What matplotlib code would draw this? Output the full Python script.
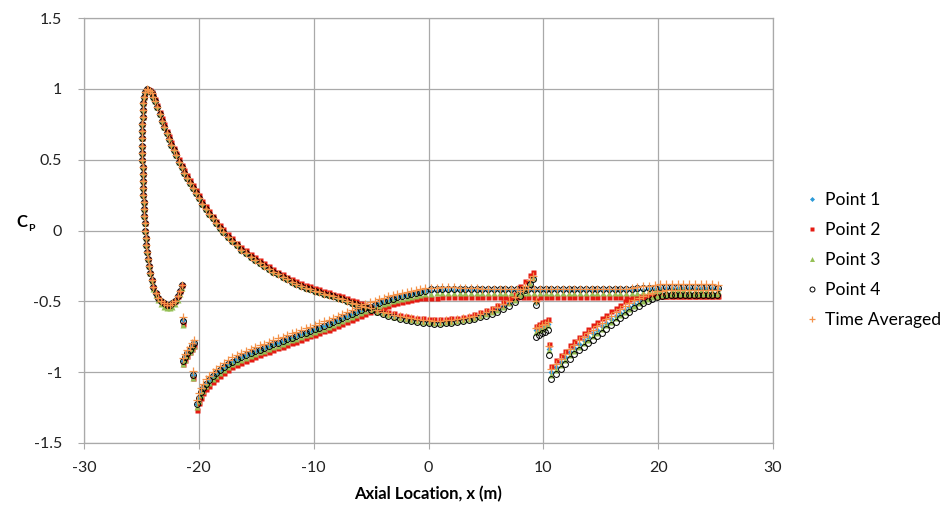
import matplotlib
matplotlib.use("Agg")
import matplotlib.pyplot as plt

plt.rcParams["font.family"] = ["Lato", "DejaVu Sans"]

# ---- values ----
# leading edge: peak and lower branch down into the trough
nose_x = [-24.55, -24.68, -24.77, -24.83, -24.87, -24.9, -24.91, -24.92, -24.92, -24.92,
          -24.92, -24.91, -24.9, -24.89, -24.87, -24.85, -24.83, -24.8, -24.77, -24.74,
          -24.71, -24.68, -24.64, -24.59, -24.53, -24.46, -24.37, -24.26, -24.12, -23.96,
          -23.77, -23.55, -23.3, -23.05, -22.8, -22.55, -22.3, -22.05, -21.85, -21.67, -21.5]
nose_y = [1.0, 0.975, 0.94, 0.9, 0.85, 0.8, 0.75, 0.7, 0.65, 0.6,
          0.55, 0.5, 0.45, 0.4, 0.35, 0.3, 0.25, 0.2, 0.15, 0.1,
          0.05, 0.0, -0.05, -0.1, -0.15, -0.2, -0.25, -0.3, -0.35, -0.4,
          -0.44, -0.475, -0.5, -0.515, -0.525, -0.525, -0.515, -0.495, -0.465, -0.43, -0.385]
nose_y_p3 = [1.0, 0.975, 0.94, 0.9, 0.85, 0.8, 0.75, 0.7, 0.65, 0.6,
             0.55, 0.5, 0.45, 0.4, 0.35, 0.3, 0.25, 0.2, 0.15, 0.1,
             0.05, 0.0, -0.05, -0.1, -0.15, -0.2, -0.25, -0.3, -0.355, -0.41,
             -0.455, -0.49, -0.52, -0.54, -0.55, -0.55, -0.54, -0.52, -0.49, -0.45, -0.405]

# upper branch from the peak back to the crossing
up_x = [-24.4, -24.25, -24.1, -23.95, -23.8, -23.6, -23.4, -23.2, -23.0, -22.8,
        -22.6, -22.4, -22.2, -22.0, -21.75, -21.5, -21.25, -21.0, -20.75, -20.5,
        -20.25, -20.0, -19.7, -19.4, -19.1, -18.8, -18.5, -18.2, -17.9, -17.5,
        -17.1, -16.7, -16.3, -15.9, -15.5, -15.1, -14.7, -14.3, -13.9, -13.5,
        -13.1, -12.7, -12.3, -11.9, -11.5, -11.1, -10.7, -10.3, -9.9, -9.5,
        -9.1, -8.7, -8.3, -7.9, -7.5, -7.1, -6.7, -6.3, -5.9, -5.5]
up_y = [0.995, 0.985, 0.97, 0.945, 0.915, 0.87, 0.82, 0.775, 0.73, 0.685,
        0.645, 0.605, 0.565, 0.53, 0.485, 0.445, 0.405, 0.37, 0.335, 0.3,
        0.265, 0.23, 0.19, 0.155, 0.12, 0.085, 0.05, 0.02, -0.01, -0.045,
        -0.075, -0.105, -0.135, -0.16, -0.185, -0.21, -0.23, -0.25, -0.27, -0.29,
        -0.31, -0.325, -0.345, -0.36, -0.375, -0.39, -0.405, -0.415, -0.425, -0.435,
        -0.445, -0.455, -0.465, -0.475, -0.485, -0.495, -0.51, -0.52, -0.53, -0.54]
up_y_p2 = [1.0, 0.995, 0.98, 0.96, 0.93, 0.885, 0.84, 0.795, 0.75, 0.705,
           0.665, 0.625, 0.585, 0.55, 0.505, 0.465, 0.425, 0.39, 0.355, 0.32,
           0.285, 0.25, 0.21, 0.175, 0.14, 0.105, 0.07, 0.04, 0.01, -0.025,
           -0.055, -0.085, -0.115, -0.14, -0.165, -0.19, -0.21, -0.23, -0.25, -0.27,
           -0.29, -0.305, -0.325, -0.34, -0.355, -0.37, -0.385, -0.395, -0.405, -0.415,
           -0.425, -0.435, -0.445, -0.455, -0.465, -0.475, -0.49, -0.5, -0.51, -0.525]

# upper branch after the crossing, up to the spike near x = 9
mid_x = [-5.0, -4.5, -4.0, -3.5, -3.0, -2.5, -2.0, -1.5, -1.0, -0.5,
         0.0, 0.5, 1.0, 1.5, 2.0, 2.5, 3.0, 3.5, 4.0, 4.5,
         5.0, 5.5, 6.0, 6.5, 7.0, 7.5, 8.0, 8.4, 8.8, 9.1]
mid_p1 = [-0.555, -0.568, -0.58, -0.592, -0.603, -0.613, -0.622, -0.629, -0.635, -0.64,
          -0.643, -0.645, -0.645, -0.643, -0.64, -0.635, -0.628, -0.62, -0.61, -0.598,
          -0.585, -0.57, -0.553, -0.533, -0.51, -0.485, -0.45, -0.41, -0.365, -0.33]
mid_p2 = [-0.54, -0.552, -0.563, -0.574, -0.584, -0.594, -0.602, -0.609, -0.615, -0.62,
          -0.623, -0.625, -0.625, -0.623, -0.62, -0.615, -0.608, -0.6, -0.59, -0.577,
          -0.563, -0.547, -0.528, -0.506, -0.482, -0.448, -0.395, -0.355, -0.315, -0.29]
mid_p3 = [-0.56, -0.573, -0.585, -0.597, -0.608, -0.618, -0.627, -0.634, -0.64, -0.645,
          -0.648, -0.65, -0.65, -0.648, -0.645, -0.64, -0.633, -0.625, -0.615, -0.603,
          -0.59, -0.575, -0.558, -0.538, -0.515, -0.49, -0.455, -0.415, -0.37, -0.335]
mid_p4 = [-0.56, -0.575, -0.588, -0.6, -0.612, -0.622, -0.632, -0.64, -0.646, -0.651,
          -0.655, -0.657, -0.657, -0.655, -0.652, -0.647, -0.641, -0.634, -0.625, -0.614,
          -0.602, -0.588, -0.573, -0.556, -0.535, -0.505, -0.465, -0.42, -0.375, -0.345]
mid_p5 = [-0.55, -0.562, -0.574, -0.585, -0.596, -0.606, -0.614, -0.621, -0.627, -0.632,
          -0.635, -0.637, -0.637, -0.635, -0.632, -0.627, -0.62, -0.612, -0.602, -0.59,
          -0.576, -0.56, -0.542, -0.522, -0.498, -0.47, -0.43, -0.39, -0.35, -0.32]

# single stray points
bit_x = [-21.4, -20.5, 9.35, 10.45]
bit_p1 = [-0.63, -1.02, -0.51, -0.835]
bit_p2 = [-0.66, -1.04, -0.49, -0.8]
bit_p3 = [-0.665, -1.04, -0.5, -0.84]
bit_p4 = [-0.64, -1.02, -0.525, -0.88]
bit_p5 = [-0.61, -0.995, -0.5, -0.815]

# short piece near x = -21
seg_x = [-21.4, -21.2, -21.0, -20.8, -20.6, -20.45]
seg_p1 = [-0.92, -0.895, -0.865, -0.84, -0.815, -0.795]
seg_p2 = [-0.94, -0.915, -0.885, -0.86, -0.835, -0.815]
seg_p5 = [-0.9, -0.875, -0.845, -0.82, -0.795, -0.775]

# short piece near x = 10
clu_x = [9.4, 9.65, 9.9, 10.15, 10.4]
clu_p1 = [-0.705, -0.695, -0.683, -0.672, -0.66]
clu_p2 = [-0.672, -0.66, -0.648, -0.638, -0.627]
clu_p3 = [-0.715, -0.705, -0.693, -0.682, -0.67]
clu_p4 = [-0.75, -0.738, -0.726, -0.713, -0.7]
clu_p5 = [-0.69, -0.68, -0.668, -0.657, -0.645]

# lower branch rising from x = -20
low_x = [-20.2, -20.0, -19.8, -19.6, -19.35, -19.1, -18.8, -18.5, -18.2, -17.85,
         -17.5, -17.1, -16.7, -16.3, -15.9, -15.5, -15.1, -14.7, -14.3, -13.9,
         -13.5, -13.1, -12.7, -12.3, -11.9, -11.5, -11.1, -10.7, -10.3, -9.9,
         -9.5, -9.1, -8.7, -8.3, -7.9, -7.5, -7.1, -6.7, -6.3, -5.9,
         -5.5, -5.1, -4.7, -4.3, -3.9, -3.5, -3.1, -2.7, -2.3, -1.9,
         -1.5, -1.1, -0.7, -0.3]
low_p1 = [-1.225, -1.18, -1.14, -1.11, -1.08, -1.055, -1.03, -1.005, -0.985, -0.965,
          -0.945, -0.925, -0.91, -0.895, -0.88, -0.865, -0.852, -0.84, -0.828, -0.816,
          -0.804, -0.792, -0.78, -0.768, -0.756, -0.744, -0.732, -0.72, -0.708, -0.697,
          -0.685, -0.672, -0.66, -0.647, -0.634, -0.62, -0.606, -0.592, -0.578, -0.564,
          -0.55, -0.537, -0.524, -0.512, -0.5, -0.49, -0.48, -0.47, -0.462, -0.455,
          -0.448, -0.441, -0.435, -0.43]
low_p2 = [-1.265, -1.22, -1.18, -1.15, -1.12, -1.095, -1.07, -1.045, -1.025, -1.005,
          -0.985, -0.965, -0.95, -0.935, -0.92, -0.905, -0.892, -0.88, -0.868, -0.856,
          -0.844, -0.832, -0.82, -0.808, -0.796, -0.784, -0.772, -0.76, -0.748, -0.737,
          -0.725, -0.712, -0.7, -0.687, -0.674, -0.66, -0.646, -0.632, -0.618, -0.604,
          -0.59, -0.577, -0.564, -0.552, -0.54, -0.53, -0.52, -0.51, -0.502, -0.495,
          -0.489, -0.484, -0.479, -0.476]
low_p3 = [-1.245, -1.2, -1.16, -1.13, -1.1, -1.075, -1.05, -1.025, -1.005, -0.985,
          -0.965, -0.945, -0.93, -0.915, -0.9, -0.885, -0.872, -0.86, -0.848, -0.836,
          -0.824, -0.812, -0.8, -0.788, -0.776, -0.764, -0.752, -0.74, -0.728, -0.717,
          -0.705, -0.692, -0.68, -0.667, -0.654, -0.64, -0.626, -0.612, -0.598, -0.584,
          -0.57, -0.557, -0.544, -0.532, -0.52, -0.51, -0.5, -0.49, -0.482, -0.475,
          -0.468, -0.461, -0.455, -0.45]
low_p5 = [-1.195, -1.15, -1.11, -1.08, -1.05, -1.025, -1.0, -0.975, -0.955, -0.935,
          -0.915, -0.895, -0.88, -0.865, -0.85, -0.835, -0.822, -0.81, -0.798, -0.786,
          -0.774, -0.762, -0.75, -0.738, -0.726, -0.714, -0.702, -0.69, -0.678, -0.667,
          -0.655, -0.642, -0.63, -0.617, -0.604, -0.59, -0.576, -0.562, -0.548, -0.534,
          -0.52, -0.508, -0.496, -0.485, -0.474, -0.464, -0.455, -0.446, -0.438, -0.431,
          -0.424, -0.418, -0.413, -0.408]

# lower branch, flat part out to the trailing end
flat_x = [0.2, 0.7, 1.2, 1.7, 2.2, 2.7, 3.2, 3.7, 4.2, 4.7,
          5.2, 5.7, 6.2, 6.7, 7.2, 7.7, 8.2, 8.7, 9.2, 9.7,
          10.2, 10.7, 11.2, 11.7, 12.2, 12.7, 13.2, 13.7, 14.2, 14.7,
          15.2, 15.7, 16.2, 16.7, 17.2, 17.7, 18.2, 18.7, 19.2, 19.7,
          20.2, 20.7, 21.2, 21.7, 22.2, 22.7, 23.2, 23.7, 24.2, 24.7, 25.2]
flat_p1 = [-0.426, -0.424, -0.422, -0.421, -0.42, -0.42, -0.42, -0.42, -0.42, -0.42,
           -0.42, -0.42, -0.42, -0.42, -0.42, -0.42, -0.42, -0.42, -0.42, -0.42,
           -0.42, -0.42, -0.42, -0.42, -0.42, -0.42, -0.42, -0.42, -0.42, -0.42,
           -0.42, -0.42, -0.42, -0.42, -0.42, -0.42, -0.42, -0.418, -0.414, -0.41,
           -0.407, -0.405, -0.404, -0.403, -0.403, -0.403, -0.404, -0.405, -0.406, -0.408, -0.41]
flat_p2 = [-0.476, -0.474, -0.472, -0.471, -0.47, -0.47, -0.47, -0.47, -0.47, -0.47,
           -0.47, -0.47, -0.47, -0.47, -0.47, -0.47, -0.47, -0.47, -0.47, -0.47,
           -0.47, -0.47, -0.47, -0.47, -0.47, -0.47, -0.47, -0.47, -0.47, -0.47,
           -0.47, -0.47, -0.47, -0.47, -0.47, -0.47, -0.468, -0.466, -0.464, -0.462,
           -0.46, -0.46, -0.46, -0.46, -0.46, -0.46, -0.46, -0.46, -0.46, -0.46, -0.46]
flat_p3 = [-0.446, -0.443, -0.441, -0.44, -0.44, -0.44, -0.44, -0.44, -0.44, -0.44,
           -0.44, -0.44, -0.44, -0.44, -0.44, -0.44, -0.44, -0.44, -0.44, -0.44,
           -0.44, -0.44, -0.44, -0.44, -0.44, -0.44, -0.44, -0.44, -0.44, -0.44,
           -0.44, -0.44, -0.44, -0.44, -0.44, -0.44, -0.438, -0.434, -0.43, -0.427,
           -0.425, -0.424, -0.423, -0.423, -0.423, -0.423, -0.424, -0.425, -0.426, -0.428, -0.43]
flat_p4 = [-0.414, -0.412, -0.41, -0.41, -0.41, -0.41, -0.41, -0.41, -0.41, -0.41,
           -0.41, -0.41, -0.41, -0.41, -0.41, -0.41, -0.41, -0.41, -0.41, -0.41,
           -0.41, -0.41, -0.41, -0.41, -0.41, -0.41, -0.41, -0.41, -0.41, -0.41,
           -0.41, -0.41, -0.41, -0.41, -0.41, -0.41, -0.409, -0.407, -0.405, -0.403,
           -0.401, -0.4, -0.399, -0.398, -0.398, -0.398, -0.399, -0.4, -0.401, -0.402, -0.404]
flat_p5 = [-0.405, -0.403, -0.401, -0.4, -0.402, -0.405, -0.407, -0.408, -0.409, -0.41,
           -0.41, -0.41, -0.41, -0.41, -0.41, -0.41, -0.41, -0.41, -0.41, -0.41,
           -0.41, -0.41, -0.41, -0.41, -0.41, -0.41, -0.41, -0.41, -0.41, -0.41,
           -0.41, -0.41, -0.41, -0.41, -0.41, -0.408, -0.4, -0.395, -0.39, -0.385,
           -0.38, -0.378, -0.376, -0.375, -0.375, -0.375, -0.376, -0.377, -0.379, -0.381, -0.384]

# aft lower branch rising from x = 10.7
aft_x = [10.7, 11.1, 11.5, 11.9, 12.3, 12.7, 13.1, 13.5, 13.9, 14.3,
         14.7, 15.1, 15.5, 15.9, 16.3, 16.7, 17.1, 17.5, 17.9, 18.3,
         18.7, 19.1, 19.5, 19.9, 20.3, 20.7, 21.1, 21.5, 21.9, 22.3,
         22.7, 23.1, 23.5, 23.9, 24.3, 24.7, 25.1]
aft_p1 = [-1.0, -0.965, -0.93, -0.895, -0.86, -0.83, -0.8, -0.775, -0.75, -0.725,
          -0.7, -0.675, -0.65, -0.625, -0.6, -0.58, -0.56, -0.54, -0.52, -0.5,
          -0.485, -0.47, -0.46, -0.455, -0.45, -0.447, -0.445, -0.445, -0.445, -0.445,
          -0.445, -0.445, -0.445, -0.445, -0.445, -0.445, -0.445]
aft_p2 = [-0.955, -0.915, -0.88, -0.85, -0.81, -0.78, -0.75, -0.72, -0.695, -0.67,
          -0.645, -0.62, -0.595, -0.57, -0.55, -0.525, -0.5, -0.48, -0.468, -0.462,
          -0.46, -0.46, -0.46, -0.46, -0.46, -0.46, -0.46, -0.46, -0.46, -0.46,
          -0.46, -0.46, -0.46, -0.46, -0.46, -0.46, -0.46]
aft_p3 = [-1.02, -0.985, -0.95, -0.915, -0.88, -0.85, -0.82, -0.795, -0.77, -0.745,
          -0.72, -0.695, -0.67, -0.645, -0.62, -0.595, -0.575, -0.555, -0.53, -0.51,
          -0.495, -0.48, -0.47, -0.46, -0.455, -0.452, -0.45, -0.45, -0.45, -0.45,
          -0.45, -0.45, -0.45, -0.45, -0.45, -0.45, -0.45]
aft_p4 = [-1.045, -1.01, -0.975, -0.94, -0.905, -0.875, -0.845, -0.82, -0.795, -0.77,
          -0.745, -0.72, -0.695, -0.67, -0.645, -0.62, -0.595, -0.575, -0.55, -0.53,
          -0.51, -0.495, -0.48, -0.47, -0.462, -0.458, -0.456, -0.455, -0.455, -0.455,
          -0.455, -0.455, -0.455, -0.455, -0.455, -0.455, -0.455]
aft_p5 = [-0.98, -0.94, -0.905, -0.87, -0.835, -0.805, -0.775, -0.75, -0.725, -0.7,
          -0.675, -0.65, -0.625, -0.6, -0.575, -0.555, -0.53, -0.51, -0.49, -0.475,
          -0.46, -0.45, -0.44, -0.43, -0.425, -0.42, -0.42, -0.42, -0.42, -0.42,
          -0.42, -0.42, -0.42, -0.42, -0.42, -0.42, -0.42]

series_names = ["Point 1", "Point 2", "Point 3", "Point 4", "Time Averaged"]
x_ticks = [-30, -20, -10, 0, 10, 20, 30]
y_ticks = [-1.5, -1, -0.5, 0, 0.5, 1, 1.5]

segments_x = [nose_x, up_x, mid_x, bit_x, seg_x, clu_x, low_x, flat_x, aft_x]
segments_y = {
    "Point 1": [nose_y, up_y, mid_p1, bit_p1, seg_p1, clu_p1, low_p1, flat_p1, aft_p1],
    "Point 2": [nose_y, up_y_p2, mid_p2, bit_p2, seg_p2, clu_p2, low_p2, flat_p2, aft_p2],
    "Point 3": [nose_y_p3, up_y, mid_p3, bit_p3, seg_p2, clu_p3, low_p3, flat_p3, aft_p3],
    "Point 4": [nose_y, up_y, mid_p4, bit_p4, seg_p1, clu_p4, low_p1, flat_p4, aft_p4],
    "Time Averaged": [nose_y, up_y, mid_p5, bit_p5, seg_p5, clu_p5, low_p5, flat_p5, aft_p5],
}

styles = {
    "Point 1": dict(marker="D", color="#2c9ad8", ms=3.0, mec="none"),
    "Point 2": dict(marker="s", color="#e51b12", ms=3.6, mec="none"),
    "Point 3": dict(marker="^", color="#95c055", ms=4.2, mec="none"),
    "Point 4": dict(marker="o", color="black", mfc="none", mec="black", ms=4.2, mew=0.7),
    "Time Averaged": dict(marker="+", color="#f4934a", ms=5.5, mew=0.9),
}

fig = plt.figure(figsize=(9.44, 5.09), dpi=100)
ax = fig.add_axes([84 / 944, 1 - 443 / 509, (773 - 84) / 944, (443 - 18) / 509])

for name in series_names:
    xs = [v for seg in segments_x for v in seg]
    ys = [v for seg in segments_y[name] for v in seg]
    ax.plot(xs, ys, linestyle="none", label=name, **styles[name])

ax.set_xlim(-30, 30)
ax.set_ylim(-1.5, 1.5)
ax.set_xticks(x_ticks)
ax.set_yticks(y_ticks)
ax.set_xticklabels([f"{v:g}" for v in x_ticks])
ax.set_yticklabels([f"{v:g}" for v in y_ticks])
ax.grid(True, color="#a9a9a9", linewidth=0.9)
ax.set_axisbelow(True)
for sp in ax.spines.values():
    sp.set_color("#a9a9a9")
    sp.set_linewidth(0.9)
ax.tick_params(axis="both", length=4, color="#a9a9a9", labelsize=11.5, labelcolor="#222222")
ax.tick_params(axis="y", pad=12)
ax.tick_params(axis="x", pad=9)

ax.set_xlabel("Axial Location, x (m)", fontsize=12, fontweight="bold", labelpad=8)
fig.text(16 / 944, 1 - 222 / 509, "C", fontsize=12, fontweight="bold", ha="left", va="center")
fig.text(28 / 944, 1 - 228 / 509, "P", fontsize=7.5, fontweight="bold", ha="left", va="center")

fig.legend(loc="center left", bbox_to_anchor=(0.855, 0.489), frameon=False,
           fontsize=12.6, handlelength=0.6, handletextpad=0.4, labelspacing=0.8,
           markerscale=0.85, borderaxespad=0.0, borderpad=0.0)

fig.savefig("out.png", dpi=100)
